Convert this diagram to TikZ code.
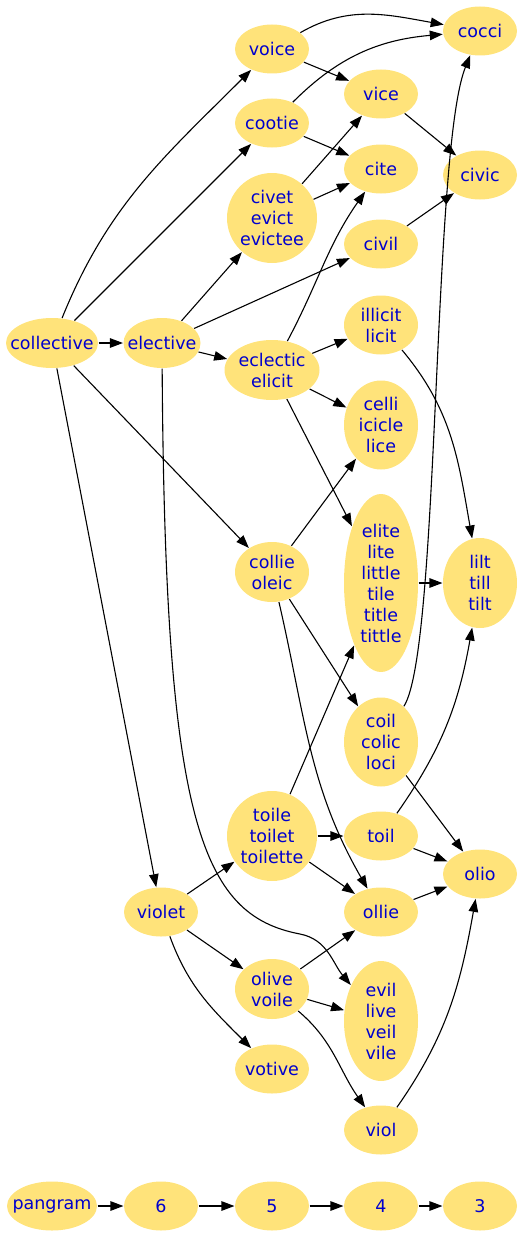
\documentclass[tikz,border=0pt]{standalone}
\usepackage{fontspec}
\setmainfont{DejaVu Sans}
\usetikzlibrary{shapes.geometric,arrows.meta}
\definecolor{wordfill}{RGB}{255,227,122}
\definecolor{wordtext}{RGB}{0,0,205}

\begin{document}
\begin{tikzpicture}[x=1pt, y=1pt, >={Triangle[length=13pt,width=9.5pt]}, line width=1.1pt,
    word/.style={ellipse, fill=wordfill, inner sep=0pt, minimum width=74pt, minimum height=49pt},
    every label/.style={text=wordtext, align=center, font=\fontsize{17.5}{21}\selectfont}]
    \useasboundingbox (0,0) rectangle (528,-1236);

    % words, column by column
    \node[word, minimum width=92pt, minimum height=50pt, label=center:collective] (collective) at (52,-343) {};
    \node[word, minimum width=77pt, minimum height=50pt, label=center:elective] (elective) at (162,-343) {};
    \node[word, label=center:violet] (violet) at (161,-912) {};

    \node[word, label=center:voice] (voice) at (272,-49) {};
    \node[word, label=center:cootie] (cootie) at (272,-123) {};
    \node[word, minimum width=90pt, minimum height=90pt, label=center:{civet\\evict\\evictee}] (civet) at (272,-218) {};
    \node[word, minimum width=95pt, minimum height=60pt, label=center:{eclectic\\elicit}] (eclectic) at (272,-370) {};
    \node[word, minimum height=60pt, label=center:{collie\\oleic}] (collie) at (272,-572) {};
    \node[word, minimum width=90pt, minimum height=90pt, label=center:{toile\\toilet\\toilette}] (toile) at (272,-836) {};
    \node[word, minimum height=60pt, label=center:{olive\\voile}] (olive) at (272,-989) {};
    \node[word, label=center:votive] (votive) at (272,-1069) {};

    \node[word, label=center:vice] (vice) at (381,-94) {};
    \node[word, label=center:cite] (cite) at (381,-169) {};
    \node[word, label=center:civil] (civil) at (381,-244) {};
    \node[word, minimum height=59pt, label=center:{illicit\\licit}] (illicit) at (381,-325) {};
    \node[word, minimum height=89pt, label=center:{celli\\icicle\\lice}] (celli) at (381,-425) {};
    \node[word, minimum height=178pt, label=center:{elite\\lite\\little\\tile\\title\\tittle}] (elite) at (381,-583) {};
    \node[word, minimum height=89pt, label=center:{coil\\colic\\loci}] (coil) at (381,-742) {};
    \node[word, label=center:toil] (toil) at (381,-836) {};
    \node[word, label=center:ollie] (ollie) at (381,-912) {};
    \node[word, minimum height=120pt, label=center:{evil\\live\\veil\\vile}] (evil) at (381,-1021) {};
    \node[word, label=center:viol] (viol) at (381,-1130) {};

    \node[word, label=center:cocci] (cocci) at (480,-31) {};
    \node[word, label=center:civic] (civic) at (480,-175) {};
    \node[word, minimum height=90pt, label=center:{lilt\\till\\tilt}] (lilt) at (480,-583) {};
    \node[word, label=center:olio] (olio) at (480,-874) {};

    % the count row
    \node[word, minimum width=90pt, label=center:pangram] (pangram) at (52,-1206) {};
    \node[word, label=center:6] (n6) at (161,-1206) {};
    \node[word, label=center:5] (n5) at (272,-1206) {};
    \node[word, label=center:4] (n4) at (381,-1206) {};
    \node[word, label=center:3] (n3) at (480,-1206) {};

    % edges
    \draw[->] (collective) -- (elective);
    \draw[->] (collective) to[out=68, in=-135] (voice);
    \draw[->] (collective) -- (cootie);
    \draw[->] (collective) -- (collie);
    \draw[->] (collective) -- (violet);

    \draw[->] (elective) -- (civet);
    \draw[->] (elective) -- (civil);
    \draw[->] (elective) -- (eclectic);
    \draw[->] (elective) .. controls (165,-820) and (200,-915) .. (300,-934) to[out=-11, in=130] (evil);

    \draw[->] (voice) to[out=30, in=170] (cocci);
    \draw[->] (voice) -- (vice);
    \draw[->] (cootie) to[out=45, in=185] (cocci);
    \draw[->] (cootie) -- (cite);
    \draw[->] (civet) -- (vice);
    \draw[->] (civet) -- (cite);
    \draw[->] (vice) -- (civic);
    \draw[->] (civil) -- (civic);

    \draw[->] (eclectic) to[out=62, in=-125] (cite);
    \draw[->] (eclectic) -- (illicit);
    \draw[->] (eclectic) -- (celli);
    \draw[->] (eclectic) -- (elite);
    \draw[->] (illicit) to[out=-50, in=100] (lilt);

    \draw[->] (collie) -- (celli);
    \draw[->] (collie) -- (coil);
    \draw[->] (collie) to[out=-77, in=120] (ollie);
    \draw[->] (elite) -- (lilt);
    \draw[->] (coil) .. controls (440,-650) and (432,-150) .. (cocci);
    \draw[->] (coil) -- (olio);

    \draw[->] (toile) -- (elite);
    \draw[->] (toile) -- (toil);
    \draw[->] (toile) -- (ollie);
    \draw[->] (toil) to[out=55, in=-100] (lilt);
    \draw[->] (toil) -- (olio);

    \draw[->] (violet) -- (toile);
    \draw[->] (violet) -- (olive);
    \draw[->] (violet) to[out=-70, in=135] (votive);
    \draw[->] (ollie) -- (olio);
    \draw[->] (olive) -- (ollie);
    \draw[->] (olive) -- (evil);
    \draw[->] (olive) to[out=-40, in=125] (viol);
    \draw[->] (viol) to[out=55, in=-100] (olio);

    \draw[->] (pangram) -- (n6);
    \draw[->] (n6) -- (n5);
    \draw[->] (n5) -- (n4);
    \draw[->] (n4) -- (n3);
\end{tikzpicture}
\end{document}
